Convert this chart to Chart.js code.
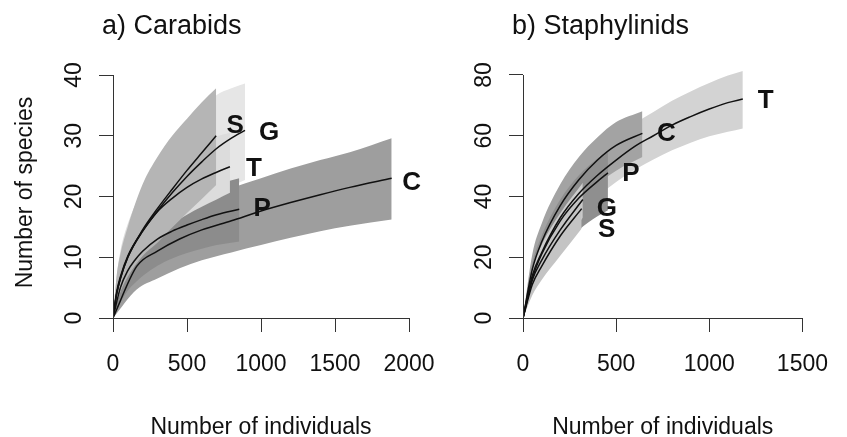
<!DOCTYPE html>
<html>
<head>
<meta charset="utf-8">
<script src="https://cdn.jsdelivr.net/npm/chart.js@4.4.1/dist/chart.umd.min.js"></script>
<style>
html,body{margin:0;padding:0;background:#fff;width:847px;height:437px;overflow:hidden;}
canvas{position:absolute;left:0;top:0;}
</style>
</head>
<body>
<canvas id="ca" width="847" height="437"></canvas>
<canvas id="cb" width="847" height="437"></canvas>
<script>
// ---------- DATA : a) Carabids ----------
const carTicksX = [0, 500, 1000, 1500, 2000];
const carTicksY = [0, 10, 20, 30, 40];

const carC_x    = [0, 160, 300, 450, 600, 800, 1000, 1200, 1400, 1600, 1883];
const carC_mean = [0, 8.5, 11, 13, 14.5, 16, 17.6, 19.0, 20.3, 21.5, 23.0];
const carC_hi   = [0, 12.5, 15.5, 18, 19.8, 21.4, 23.0, 24.6, 26.0, 27.3, 29.6];
const carC_lo   = [0, 4.7, 6.5, 8.2, 9.5, 10.8, 12.0, 13.2, 14.3, 15.2, 16.2];

const carG_x    = [0, 25, 50, 100, 200, 300, 400, 500, 600, 700, 800, 892];
const carG_mean = [0, 4, 6.5, 10, 14.3, 17.6, 20.6, 23.3, 25.7, 27.9, 29.6, 30.9];
const carG_hi   = [0, 6.5, 10, 15, 21.5, 26, 29.3, 32, 34.3, 36.7, 37.8, 38.6];
const carG_lo   = [0, 2, 3.5, 6, 9.5, 12.5, 15, 17, 18.8, 20.5, 21.7, 22.7];

const carP_x    = [0, 50, 100, 150, 200, 300, 400, 500, 600, 700, 853];
const carP_mean = [0, 5, 7.8, 9.6, 11, 13, 14.3, 15.3, 16.2, 17, 17.9];
const carP_hi   = [0, 8, 11.5, 13.8, 15.3, 17.5, 19, 20.2, 21.2, 22, 23.0];
const carP_lo   = [0, 2.5, 4.5, 5.8, 6.9, 8.6, 9.8, 10.7, 11.4, 12.0, 12.6];

const carT_x    = [0, 25, 50, 100, 200, 300, 400, 500, 600, 700, 790];
const carT_mean = [0, 4.3, 6.8, 10.2, 14.3, 17.5, 19.7, 21.5, 22.9, 24.0, 24.9];
const carT_hi   = [0, 7, 11, 15.5, 21, 24.5, 26.6, 28, 29.1, 29.9, 30.5];
const carT_lo   = [0, 2.5, 4.5, 7.5, 11.5, 14, 15.6, 17, 18.3, 19.5, 20.6];

const carS_x    = [0, 25, 50, 100, 200, 300, 400, 500, 600, 697];
const carS_mean = [0, 4, 6.5, 10, 14.5, 18, 21.2, 24.3, 27.2, 30];
const carS_hi   = [0, 7, 10.5, 15, 22, 26.5, 30, 32.8, 35.5, 37.8];
const carS_lo   = [0, 2.5, 4.3, 6.8, 10.2, 12.4, 14.9, 17.3, 19.6, 21.9];

// ---------- DATA : b) Staphylinids ----------
const staTicksX = [0, 500, 1000, 1500];
const staTicksY = [0, 20, 40, 60, 80];

const staT_x    = [0, 50, 100, 200, 300, 400, 500, 600, 700, 800, 900, 1000, 1100, 1180];
const staT_mean = [0, 14, 21.5, 33, 41, 47, 52, 56.5, 60, 63.5, 66.3, 68.8, 70.9, 72.1];
const staT_hi   = [0, 17.5, 26, 39, 47.5, 54, 59.3, 64, 67.8, 71.5, 74.6, 77.4, 79.8, 81.3];
const staT_lo   = [0, 10.5, 17, 27, 34.5, 40, 44.8, 48.8, 52.2, 55.2, 57.7, 59.8, 61.3, 62.4];

const staC_x    = [0, 50, 100, 200, 300, 400, 500, 641];
const staC_mean = [0, 16, 25, 37, 45.5, 52, 56.8, 60.8];
const staC_hi   = [0, 21, 31, 44, 53, 59.5, 64.5, 68.1];
const staC_lo   = [0, 11, 19, 30, 38, 44, 48.5, 53];

const staP_x    = [0, 50, 100, 200, 300, 400, 456];
const staP_mean = [0, 13, 21, 32, 39.5, 45, 47.8];
const staP_hi   = [0, 18, 27, 39, 47, 52.5, 55];
const staP_lo   = [0, 8.5, 14.5, 23, 29, 33.5, 35.5];

const staG_x    = [0, 50, 100, 200, 321];
const staG_mean = [0, 12.5, 19, 29, 39];
const staG_hi   = [0, 16, 24, 34.5, 44.5];
const staG_lo   = [0, 9, 14, 23, 33];

const staS_x    = [0, 50, 100, 200, 315];
const staS_mean = [0, 11, 17, 27, 36];
const staS_hi   = [0, 14.5, 22, 32.5, 41.5];
const staS_lo   = [0, 7.5, 12.5, 20.5, 29.5];

// ---------- STYLE ----------
const FONT = "'Liberation Sans', Arial, Helvetica, sans-serif";
const AXIS_COL = '#333333';
const TEXT_COL = '#111111';

const panelA = {
  id: 'ca', title: 'a) Carabids', yTitle: 'Number of species',
  xTicks: carTicksX, yTicks: carTicksY, yMax: 40,
  pad: {left: 99, top: 75, right: 438, bottom: 0},
  titleX: 102,
  // back -> front
  sites: [
    {k: 'C', x: carC_x, m: carC_mean, hi: carC_hi, lo: carC_lo, col: '#9e9e9e', nudge: [20, 2]},
    {k: 'G', x: carG_x, m: carG_mean, hi: carG_hi, lo: carG_lo, col: '#e6e6e6', nudge: [24, 0]},
    {k: 'P', x: carP_x, m: carP_mean, hi: carP_hi, lo: carP_lo, col: '#8c8c8c', nudge: [23, -3]},
    {k: 'T', x: carT_x, m: carT_mean, hi: carT_hi, lo: carT_lo, col: '#dcdcdc', nudge: [24, 0]},
    {k: 'S', x: carS_x, m: carS_mean, hi: carS_hi, lo: carS_lo, col: '#b5b5b5', nudge: [19, -12]}
  ]
};
const panelB = {
  id: 'cb', title: 'b) Staphylinids', yTitle: null,
  xTicks: staTicksX, yTicks: staTicksY, yMax: 82,
  pad: {left: 509, top: 318 - 82 * (243 / 80), right: 27, bottom: 0},
  titleX: 512,
  sites: [
    {k: 'T', x: staT_x, m: staT_mean, hi: staT_hi, lo: staT_lo, col: '#d3d3d3', nudge: [23, 0]},
    {k: 'C', x: staC_x, m: staC_mean, hi: staC_hi, lo: staC_lo, col: '#a3a3a3', nudge: [24, -2]},
    {k: 'P', x: staP_x, m: staP_mean, hi: staP_hi, lo: staP_lo, col: '#8f8f8f', nudge: [23, -1]},
    {k: 'G', x: staG_x, m: staG_mean, hi: staG_hi, lo: staG_lo, col: '#cdcdcd', nudge: [24, 7]},
    {k: 'S', x: staS_x, m: staS_mean, hi: staS_hi, lo: staS_lo, col: '#c4c4c4', nudge: [25, 19]}
  ]
};

function pts(xs, ys) { return xs.map((x, i) => ({x: x, y: ys[i]})); }

function buildChart(P) {
  const datasets = [];
  const xMax = P.xTicks[P.xTicks.length - 1];
  const xStep = P.xTicks[1] - P.xTicks[0];
  const yTop = P.yTicks[P.yTicks.length - 1];
  const yStep = P.yTicks[1] - P.yTicks[0];
  P.sites.forEach((s, k) => {
    const ord = 100 - k;
    datasets.push({
      data: pts(s.x, s.hi), fill: '+1', backgroundColor: s.col,
      borderColor: 'rgba(0,0,0,0)', borderWidth: 0, pointRadius: 0,
      cubicInterpolationMode: 'monotone', order: ord
    });
    datasets.push({
      data: pts(s.x, s.lo), fill: false, backgroundColor: s.col,
      borderColor: 'rgba(0,0,0,0)', borderWidth: 0, pointRadius: 0,
      cubicInterpolationMode: 'monotone', order: ord
    });
  });
  P.sites.forEach((s) => {
    datasets.push({
      data: pts(s.x, s.m), fill: false, borderColor: '#111111', borderWidth: 1.5,
      pointRadius: 0, cubicInterpolationMode: 'monotone', order: 0
    });
  });

  const textPlugin = {
    id: 'rtext',
    afterDraw(chart) {
      const ctx = chart.ctx;
      const xs = chart.scales.x, ys = chart.scales.y;
      const ca = chart.chartArea;
      ctx.save();
      // y axis line (R-style, from first to last tick)
      ctx.strokeStyle = AXIS_COL; ctx.lineWidth = 1;
      const xl = Math.round(ca.left) + 0.5;
      ctx.beginPath();
      ctx.moveTo(xl, ys.getPixelForValue(0));
      ctx.lineTo(xl, ys.getPixelForValue(yTop));
      ctx.stroke();
      // y tick labels, rotated like R default
      ctx.fillStyle = TEXT_COL;
      ctx.font = '23px ' + FONT;
      ctx.textAlign = 'center'; ctx.textBaseline = 'alphabetic';
      ys.ticks.forEach(t => {
        if (t.value > yTop) return;
        const py = ys.getPixelForValue(t.value);
        ctx.save();
        ctx.translate(ca.left - 32, py);
        ctx.rotate(-Math.PI / 2);
        ctx.fillText(String(t.value), 0, 0);
        ctx.restore();
      });
      // y title
      if (P.yTitle) {
        ctx.save();
        ctx.translate(32, (ys.getPixelForValue(0) + ys.getPixelForValue(yTop)) / 2 - 4);
        ctx.rotate(-Math.PI / 2);
        ctx.fillText(P.yTitle, 0, 0);
        ctx.restore();
      }
      // x title
      ctx.fillText('Number of individuals', (ca.left + ca.right) / 2, 434);
      // panel title
      ctx.font = '27px ' + FONT;
      ctx.textAlign = 'left';
      ctx.fillText(P.title, P.titleX, 34);
      // site letters at curve ends
      ctx.font = 'bold 26px ' + FONT;
      ctx.textAlign = 'center';
      P.sites.forEach(s => {
        const last = s.x.length - 1;
        const px = xs.getPixelForValue(s.x[last]) + s.nudge[0];
        const py = ys.getPixelForValue(s.m[last]) + s.nudge[1];
        ctx.fillText(s.k, px, py + 9.3);
      });
      ctx.restore();
    }
  };

  return new Chart(document.getElementById(P.id), {
    type: 'line',
    data: {datasets: datasets},
    options: {
      responsive: false, animation: false, devicePixelRatio: 1,
      layout: {padding: P.pad},
      plugins: {legend: {display: false}, tooltip: {enabled: false}, title: {display: false}},
      elements: {line: {tension: 0}},
      scales: {
        x: {
          type: 'linear', min: 0, max: xMax,
          ticks: {stepSize: xStep, autoSkip: false, maxRotation: 0, minRotation: 0,
                  callback: v => String(v),
                  color: TEXT_COL, font: {family: FONT, size: 23}, padding: 19},
          grid: {drawOnChartArea: false, drawTicks: true, tickLength: 14, color: AXIS_COL, lineWidth: 1},
          border: {display: true, color: AXIS_COL, width: 1},
          afterFit: s => { s.height = 119; }
        },
        y: {
          type: 'linear', min: 0, max: P.yMax,
          ticks: {stepSize: yStep, display: false, includeBounds: false},
          grid: {drawOnChartArea: false, drawTicks: true, tickLength: 14, color: AXIS_COL, lineWidth: 1},
          border: {display: false},
          afterFit: s => { s.width = 14; }
        }
      }
    },
    plugins: [textPlugin]
  });
}

buildChart(panelA);
buildChart(panelB);
</script>
</body>
</html>
